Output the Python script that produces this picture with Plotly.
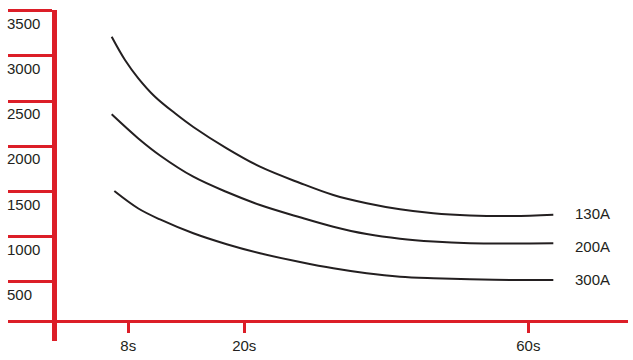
import plotly.graph_objects as go

# ---- data ----
# x positions are in axis units of the (schematic) time axis
x_130 = [10.05, 12.37, 14.69, 17.60, 21.08, 24.27, 30.09, 35.89, 42.86, 48.66, 54.48, 60.28, 66.08, 72.47, 79.97, 86.99]
y_130 = [3210, 2953, 2751, 2547, 2364, 2213, 1977, 1774, 1594, 1461, 1370, 1303, 1259, 1235, 1229, 1244]

x_200 = [10.05, 14.69, 18.47, 24.27, 30.09, 35.89, 42.86, 48.66, 54.48, 60.28, 66.08, 72.47, 79.97, 86.99]
y_200 = [2353, 2086, 1898, 1663, 1494, 1351, 1215, 1111, 1030, 978, 947, 929, 926, 929]

x_300 = [10.51, 14.69, 18.47, 24.27, 30.09, 35.89, 42.86, 48.66, 54.48, 60.28, 66.08, 72.47, 79.97, 86.99]
y_300 = [1505, 1312, 1191, 1038, 917, 817, 721, 651, 596, 558, 541, 530, 522, 522]

series_names = ["130A", "200A", "300A"]

x_tick_vals = [12.94, 33.15, 82.63]
x_tick_text = ["8s", "20s", "60s"]

y_tick_vals = [500, 1000, 1500, 2000, 2500, 3000, 3500]
y_tick_text = ["500", "1000", "1500", "2000", "2500", "3000", "3500"]

# ---- style ----
RED = "#dc1e28"
INK = "#231f20"
FONT = "Liberation Sans, Arial, sans-serif"
LABEL_YSHIFT = [1.5, -3, 0.5]

W, H = 633, 360
ML, MR, MT, MB = 8, 5, 10, 19
plot_w = W - ML - MR
plot_h = H - MT - MB

x_range = [-46 / 5.74, (628 - 54) / 5.74]
y_range = [3500 - (341 - 10.5) * 11.05, 3500 + 0.5 * 11.05]

fig = go.Figure()
for (xs, ys, name), dy in zip([(x_130, y_130, series_names[0]),
                               (x_200, y_200, series_names[1]),
                               (x_300, y_300, series_names[2])], LABEL_YSHIFT):
    fig.add_trace(go.Scatter(
        x=xs, y=ys, mode="lines", name=name,
        line=dict(color=INK, width=2, shape="spline", smoothing=1.0),
        showlegend=False, hoverinfo="skip", cliponaxis=False,
    ))
    fig.add_annotation(
        x=xs[-1], y=ys[-1], xref="x", yref="y", text=name,
        showarrow=False, xanchor="left", yanchor="middle",
        xshift=20, yshift=dy,
        font=dict(family=FONT, size=15, color=INK),
    )

for v, t in zip(y_tick_vals, y_tick_text):
    fig.add_annotation(
        x=0, y=v, xref="paper", yref="y", text=t, showarrow=False,
        xanchor="left", yanchor="middle", xshift=-3, yshift=-12.5,
        font=dict(family=FONT, size=15, color=INK),
    )

fig.update_layout(
    width=W, height=H,
    margin=dict(l=ML, r=MR, t=MT, b=MB, pad=0),
    paper_bgcolor="white", plot_bgcolor="white",
    font=dict(family=FONT, size=15, color=INK),
    xaxis=dict(
        range=x_range, anchor="free", position=(341 - 321) / plot_h,
        showline=True, linecolor=RED, linewidth=3,
        showgrid=False, zeroline=False,
        tickmode="array", tickvals=x_tick_vals, ticktext=x_tick_text,
        ticks="outside", ticklen=10, tickwidth=3, tickcolor=RED,
        tickfont=dict(family=FONT, size=15, color=INK),
        fixedrange=True,
    ),
    yaxis=dict(
        range=y_range, anchor="free", position=(54 - ML) / plot_w,
        showline=True, linecolor=RED, linewidth=5,
        showgrid=False, zeroline=False,
        tickmode="array", tickvals=y_tick_vals, ticktext=y_tick_text,
        ticks="outside", ticklen=44, tickwidth=3, tickcolor=RED,
        showticklabels=False,
        fixedrange=True,
    ),
)

fig.write_html("out.html")
